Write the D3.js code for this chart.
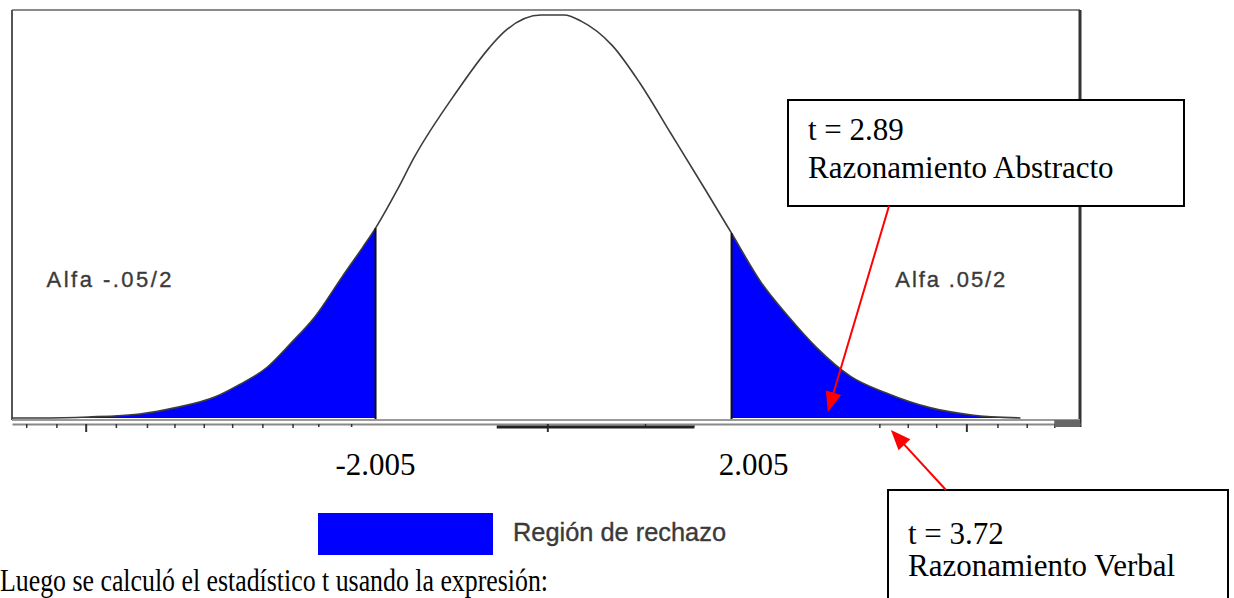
<!DOCTYPE html>
<html>
<head>
<meta charset="utf-8">
<script src="https://cdn.jsdelivr.net/npm/d3@7"></script>
<style>
  body { margin: 0; background: #fff; }
  svg { display: block; }
  .serif { font-family: "Liberation Serif", "Times New Roman", serif; fill: #000; }
  .sans { font-family: "Liberation Sans", Arial, sans-serif; fill: #3a3a3a; stroke: #3a3a3a; stroke-width: 0.35; }
</style>
</head>
<body>
<svg id="canvas" width="1234" height="598"></svg>
<script>
'use strict';

// curve: t value and height of the density
const curveT = [-6.10, -5.78, -5.24, -4.66, -4.27, -3.81, -3.54, -3.23, -2.96, -2.69, -2.38, -2.15, -2.005,
    -1.76, -1.57, -1.10, -0.72, -0.56, -0.14, 0.12, 0.31, 0.66, 0.97, 1.32, 1.71, 2.005,
    2.34, 2.65, 2.96, 3.35, 3.74, 4.25, 4.71, 5.26];
const curveD = [0, 0, 0.001, 0.004, 0.010, 0.021, 0.033, 0.050, 0.074, 0.100, 0.140, 0.169, 0.188,
    0.226, 0.258, 0.322, 0.367, 0.382, 0.399, 0.399, 0.393, 0.369, 0.332, 0.282, 0.226, 0.183,
    0.134, 0.100, 0.070, 0.041, 0.025, 0.010, 0.003, 0];

const critical = [-2.005, 2.005];
const critLabels = ['-2.005', '2.005'];
const alphaLabels = ['Alfa  -.05/2', 'Alfa .05/2'];

// tick marks under the axis
const minorTicks = [-5.94, -5.60, -4.93, -4.58, -4.27, -3.94, -3.62, -3.28, -2.94, -2.65, -2.28,
    1.03, 3.67, 3.99, 4.31, 5.00, 5.33, 5.64];
const majorTicks = [-5.27, -0.07, 4.65];

// annotations: text lines and the t position the arrow points at
const notes = [
    { lines: ['t = 2.89', 'Razonamiento Abstracto'], target: 3.09 },
    { lines: ['t = 3.72', 'Razonamiento Verbal'], target: 3.80 }
];

const legendLabel = 'Región de rechazo';
const bodyText = 'Luego se calculó el estadístico t usando la expresión:';

const svg = d3.select('#canvas');

const x = d3.scaleLinear().domain([-6.10, 5.93]).range([12, 1080]);
const y = d3.scaleLinear().domain([0, 0.404]).range([418, 10]);

const points = curveT.map(function(t, i) { return { t: t, d: curveD[i] }; });

const area = d3.area()
    .x(function(p) { return x(p.t); })
    .y0(y(0))
    .y1(function(p) { return y(p.d); })
    .curve(d3.curveMonotoneX);

const line = d3.line()
    .x(function(p) { return x(p.t); })
    .y(function(p) { return y(p.d); })
    .curve(d3.curveMonotoneX);

// rejection regions
svg.append('path')
    .datum(points.filter(function(p) { return p.t >= -5.78 && p.t <= critical[0]; }))
    .attr('d', area)
    .attr('fill', '#0000ff');

svg.append('path')
    .datum(points.filter(function(p) { return p.t >= critical[1]; }))
    .attr('d', area)
    .attr('fill', '#0000ff');

// frame
svg.append('line')
    .attr('x1', x.range()[0]).attr('x2', x.range()[1])
    .attr('y1', y.range()[1]).attr('y2', y.range()[1])
    .attr('stroke', '#8a8a8a').attr('stroke-width', 2);
svg.append('line')
    .attr('x1', x.range()[0]).attr('x2', x.range()[0])
    .attr('y1', y.range()[1]).attr('y2', y(0) + 2)
    .attr('stroke', '#555').attr('stroke-width', 2);
svg.append('line')
    .attr('x1', x.range()[1]).attr('x2', x.range()[1])
    .attr('y1', y.range()[1]).attr('y2', y(0) + 9)
    .attr('stroke', '#333').attr('stroke-width', 3);

// density curve
svg.append('path')
    .datum(points)
    .attr('d', line)
    .attr('fill', 'none')
    .attr('stroke', '#3c3c3c')
    .attr('stroke-width', 1.6);

// critical value lines
svg.selectAll('.crit')
    .data(critical)
    .enter().append('line')
    .attr('class', 'crit')
    .attr('x1', function(d) { return x(d); })
    .attr('x2', function(d) { return x(d); })
    .attr('y1', y(0) + 3)
    .attr('y2', function(d, i) { return y(i === 0 ? curveD[12] : curveD[25]); })
    .attr('stroke', '#111')
    .attr('stroke-width', 2);

// axis lines
svg.append('line')
    .attr('x1', x.range()[0]).attr('x2', x.range()[1])
    .attr('y1', y(0) + 2).attr('y2', y(0) + 2)
    .attr('stroke', '#9a9a9a').attr('stroke-width', 2);

const minorAxis = d3.axisBottom(x).tickValues(minorTicks).tickFormat('').tickSize(4).tickSizeOuter(0);
const majorAxis = d3.axisBottom(x).tickValues(majorTicks).tickFormat('').tickSize(8).tickSizeOuter(0);

const axisG = svg.append('g').attr('transform', 'translate(0,' + (y(0) + 6) + ')').call(minorAxis);
axisG.select('.domain').attr('stroke', '#888').attr('stroke-width', 2);
axisG.selectAll('.tick line').attr('stroke', '#333').attr('stroke-width', 1.5);

const majorG = svg.append('g').attr('transform', 'translate(0,' + (y(0) + 6) + ')').call(majorAxis);
majorG.select('.domain').remove();
majorG.selectAll('.tick line').attr('stroke', '#333').attr('stroke-width', 2);

// dark bar in the middle of the axis and dark end block
svg.append('line')
    .attr('x1', x(-0.64)).attr('x2', x(1.59))
    .attr('y1', y(0) + 9).attr('y2', y(0) + 9)
    .attr('stroke', '#222').attr('stroke-width', 3);
svg.append('rect')
    .attr('x', x(5.64)).attr('y', y(0) + 2)
    .attr('width', x(5.93) - x(5.64)).attr('height', 7)
    .attr('fill', '#666');

// white patches with the critical values
const critG = svg.selectAll('.critlabel')
    .data(critical)
    .enter().append('g')
    .attr('class', 'critlabel');

critG.append('rect')
    .attr('x', function(d, i) { return x(d) - (i === 0 ? 60 : 37); })
    .attr('y', y(0) + 9)
    .attr('width', 180)
    .attr('height', 64)
    .attr('fill', '#fff');

critG.append('text')
    .attr('class', 'serif')
    .attr('x', function(d, i) { return x(d) + (i === 0 ? 0 : 22); })
    .attr('y', y(0) + 57)
    .attr('text-anchor', 'middle')
    .attr('font-size', 31)
    .text(function(d, i) { return critLabels[i]; });

// alpha labels
svg.selectAll('.alpha')
    .data(alphaLabels)
    .enter().append('text')
    .attr('class', 'sans')
    .attr('x', function(d, i) { return i === 0 ? x(-5.71) : x(3.85); })
    .attr('y', 287)
    .attr('font-size', 22)
    .attr('textLength', function(d, i) { return i === 0 ? 125 : 110; })
    .text(function(d) { return d; });

// legend
svg.append('rect')
    .attr('x', 318).attr('y', 513)
    .attr('width', 175).attr('height', 42)
    .attr('fill', '#0000ff');
svg.append('text')
    .attr('class', 'sans')
    .attr('x', 513).attr('y', 541)
    .attr('font-size', 25)
    .attr('textLength', 213)
    .attr('lengthAdjust', 'spacingAndGlyphs')
    .text(legendLabel);

// annotation boxes and arrows
const boxes = [
    { x: 788, y: 100, w: 396, h: 106, first: 40, gap: 38, from: [889, 206], tipY: y(0) - 6 },
    { x: 888, y: 490, w: 340, h: 120, first: 54, gap: 32, from: [946, 490], tipY: y(0) + 12 }
];

notes.forEach(function(n, i) {
    const b = boxes[i];
    svg.append('rect')
        .attr('x', b.x).attr('y', b.y)
        .attr('width', b.w).attr('height', b.h)
        .attr('fill', '#fff')
        .attr('stroke', '#000')
        .attr('stroke-width', 2);

    const txt = svg.append('text')
        .attr('class', 'serif')
        .attr('font-size', 31);
    n.lines.forEach(function(l, j) {
        txt.append('tspan')
            .attr('x', b.x + 20)
            .attr('y', b.y + b.first + j * b.gap)
            .text(l);
    });

    const tipX = x(n.target);
    const ang = Math.atan2(b.tipY - b.from[1], tipX - b.from[0]);
    svg.append('line')
        .attr('x1', b.from[0]).attr('y1', b.from[1])
        .attr('x2', tipX - Math.cos(ang) * 14).attr('y2', b.tipY - Math.sin(ang) * 14)
        .attr('stroke', '#ff0000')
        .attr('stroke-width', 2);
    // arrow head
    const hx = tipX, hy = b.tipY;
    const bx = hx - Math.cos(ang) * 20, by = hy - Math.sin(ang) * 20;
    const px = -Math.sin(ang) * 8, py = Math.cos(ang) * 8;
    svg.append('path')
        .attr('d', 'M' + hx + ',' + hy + 'L' + (bx + px) + ',' + (by + py) + 'L' + (bx - px) + ',' + (by - py) + 'Z')
        .attr('fill', '#ff0000');
});

// text of the document below the chart (condensed like the scan)
svg.append('text')
    .attr('class', 'serif')
    .attr('x', 0).attr('y', 591)
    .attr('font-size', 32)
    .attr('textLength', 548)
    .attr('lengthAdjust', 'spacingAndGlyphs')
    .text(bodyText);
</script>
</body>
</html>
